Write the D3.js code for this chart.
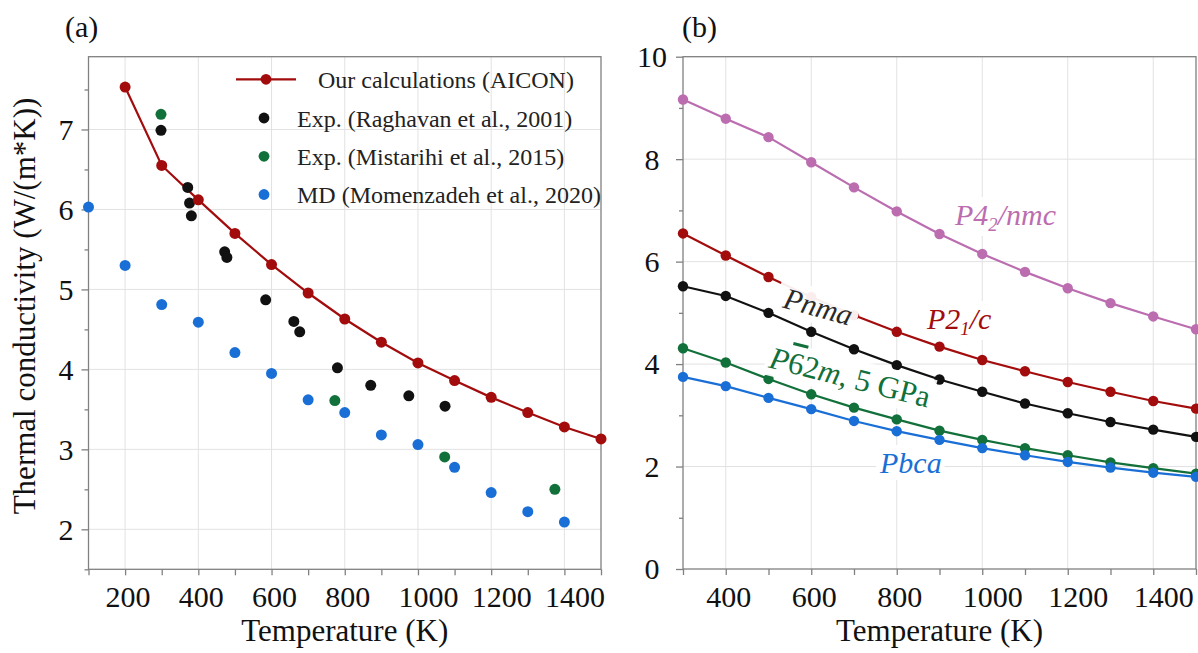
<!DOCTYPE html>
<html>
<head>
<meta charset="utf-8">
<script src="https://cdn.jsdelivr.net/npm/d3@7"></script>
<style>
  html, body { margin: 0; padding: 0; background: #fff; }
  svg, svg text, svg tspan { font-family: "Liberation Serif", "Times New Roman", Times, serif !important; }
</style>
</head>
<body>
<svg id="chart" width="1198" height="653" font-family="Liberation Serif, serif"></svg>
<script>
// ---------- Panel (a): thermal conductivity vs temperature ----------
const tempsA = [200, 300, 400, 500, 600, 700, 800, 900, 1000, 1100, 1200, 1300, 1400, 1500];
const aiconK = [7.53, 6.55, 6.12, 5.70, 5.31, 4.955, 4.63, 4.34, 4.08, 3.86, 3.65, 3.46, 3.28, 3.13];

const raghavanT = [298, 371, 376, 381, 472, 478, 584, 661, 677, 780, 871, 975, 1074];
const raghavanK = [6.99, 6.275, 6.08, 5.92, 5.47, 5.40, 4.87, 4.60, 4.47, 4.02, 3.80, 3.67, 3.54];

const mistarihiT = [298, 773, 1073, 1374];
const mistarihiK = [7.19, 3.61, 2.905, 2.50];

const mdT = [100, 200, 300, 400, 500, 600, 700, 800, 900, 1000, 1100, 1200, 1300, 1400];
const mdK = [6.03, 5.30, 4.81, 4.59, 4.21, 3.95, 3.62, 3.46, 3.18, 3.06, 2.775, 2.46, 2.22, 2.09];

const legendLabels = [
  "Our calculations (AICON)",
  "Exp. (Raghavan et al., 2001)",
  "Exp. (Mistarihi et al., 2015)",
  "MD (Momenzadeh et al., 2020)"
];

const xTicksA = [200, 400, 600, 800, 1000, 1200, 1400];
const xMinorA = [100, 300, 500, 700, 900, 1100, 1300, 1500];
const yTicksA = [2, 3, 4, 5, 6, 7];
const yMinorA = [1.5, 2.5, 3.5, 4.5, 5.5, 6.5, 7.5];

// ---------- Panel (b): polymorphs ----------
const tempsB = [300, 400, 500, 600, 700, 800, 900, 1000, 1100, 1200, 1300, 1400, 1500];
const p42nmcK = [9.165, 8.79, 8.43, 7.94, 7.45, 6.98, 6.54, 6.15, 5.80, 5.48, 5.19, 4.93, 4.68];
const p21cK = aiconK.slice(1);
const pnmaK = [5.52, 5.33, 5.00, 4.63, 4.29, 3.98, 3.70, 3.46, 3.23, 3.04, 2.87, 2.72, 2.58];
const p62mK = [4.31, 4.03, 3.71, 3.41, 3.15, 2.92, 2.70, 2.52, 2.36, 2.22, 2.08, 1.97, 1.86];
const pbcaK = [3.75, 3.57, 3.34, 3.12, 2.89, 2.69, 2.52, 2.36, 2.22, 2.09, 1.98, 1.88, 1.80];

const xTicksB = [400, 600, 800, 1000, 1200, 1400];
const xMinorB = [300, 500, 700, 900, 1100, 1300, 1500];
const yTicksB = [0, 2, 4, 6, 8, 10];
const yMinorB = [1, 3, 5, 7, 9];

const COL = {
  red: "#a20c0c",
  black: "#111111",
  green: "#12703a",
  blue: "#1a6fd6",
  pink: "#bb6db0",
  grid: "#e2e2e2",
  frame: "#808080",
  text: "#111111"
};
const SERIF = '"Liberation Serif", "Times New Roman", Times, serif';

const svg = d3.select("#chart");

const xA = d3.scaleLinear().domain([100, 1500]).range([88.5, 601]);
const yA = d3.scaleLinear().domain([1.5, 7.91]).range([569.3, 56.7]);
const xB = d3.scaleLinear().domain([300, 1500]).range([683, 1196]);
const yB = d3.scaleLinear().domain([0, 10]).range([569, 56.7]);

function drawFrame(g, x, y, xGrid, yGrid, xMaj, xMin, yMaj, yMin, yLabelCenter) {
  const [x0, x1] = x.range();
  const [y0, y1] = y.range();
  // grid
  g.append("g").selectAll("line").data(xGrid).join("line")
    .attr("x1", d => x(d)).attr("x2", d => x(d))
    .attr("y1", y0).attr("y2", y1)
    .attr("stroke", COL.grid).attr("stroke-width", 1);
  g.append("g").selectAll("line").data(yGrid).join("line")
    .attr("x1", x0).attr("x2", x1)
    .attr("y1", d => y(d)).attr("y2", d => y(d))
    .attr("stroke", COL.grid).attr("stroke-width", 1);

  // axes
  const bx = g.append("g").attr("transform", `translate(0,${y0})`)
    .call(d3.axisBottom(x).tickValues(xMaj).tickSize(6).tickPadding(0).tickFormat(d3.format("d")));
  const bxm = g.append("g").attr("transform", `translate(0,${y0})`)
    .call(d3.axisBottom(x).tickValues(xMin).tickSize(6).tickFormat(""));
  const ly = g.append("g").attr("transform", `translate(${x0},0)`)
    .call(d3.axisLeft(y).tickValues(yMaj).tickSize(7).tickFormat(d3.format("d")));
  const lym = g.append("g").attr("transform", `translate(${x0},0)`)
    .call(d3.axisLeft(y).tickValues(yMin).tickSize(4).tickFormat(""));
  [bx, bxm, ly, lym].forEach(a => {
    a.attr("font-family", SERIF);
    a.select(".domain").remove();
    a.selectAll("line").attr("stroke", COL.frame).attr("stroke-width", 1.3);
    a.selectAll("text").attr("font-size", 30).attr("fill", COL.text).attr("font-family", SERIF);
  });
  // temperature labels start a little left of their tick
  bx.selectAll("text").attr("dy", null).attr("y", 37.5)
    .attr("text-anchor", "start").attr("x", -20);
  ly.selectAll("text").attr("dy", "0.33em")
    .attr("text-anchor", "middle").attr("x", -yLabelCenter);

  // frame
  g.append("rect")
    .attr("x", x0).attr("y", y1)
    .attr("width", x1 - x0).attr("height", y0 - y1)
    .attr("fill", "none").attr("stroke", COL.frame).attr("stroke-width", 1.3);
}

function axisTitles(g, x, xTitle, yTitle) {
  const [x0, x1] = x.range();
  g.append("text")
    .attr("x", (x0 + x1) / 2).attr("y", 641)
    .attr("text-anchor", "middle").attr("font-size", 31).attr("fill", COL.text)
    .attr("font-family", SERIF)
    .text(xTitle);
  if (yTitle) {
    g.append("text")
      .attr("transform", `translate(35,306) rotate(-90)`)
      .attr("text-anchor", "middle").attr("font-size", 31).attr("fill", COL.text)
      .attr("font-family", SERIF)
      .text(yTitle);
  }
}

// ---------------- Panel (a) ----------------
const gA = svg.append("g");
drawFrame(gA, xA, yA, xTicksA, yTicksA, xTicksA, xMinorA, yTicksA, yMinorA, 22.5);
axisTitles(gA, xA, "Temperature (K)", "Thermal conductivity (W/(m*K))");
gA.append("text").attr("x", 65).attr("y", 37).attr("font-size", 30).attr("fill", COL.text)
  .attr("font-family", SERIF).text("(a)");

const lineA = d3.line().x(d => xA(d[0])).y(d => yA(d[1]));
const aicon = d3.zip(tempsA, aiconK);
gA.append("path").datum(aicon).attr("d", lineA)
  .attr("fill", "none").attr("stroke", COL.red).attr("stroke-width", 2.2);

function scatter(g, xs, ys, color, r) {
  g.append("g").selectAll("circle").data(d3.zip(xs, ys)).join("circle")
    .attr("cx", d => xA(d[0])).attr("cy", d => yA(d[1]))
    .attr("r", r).attr("fill", color);
}
scatter(gA, mdT, mdK, COL.blue, 5.5);
scatter(gA, raghavanT, raghavanK, COL.black, 5.5);
scatter(gA, mistarihiT, mistarihiK, COL.green, 5.5);
scatter(gA, tempsA, aiconK, COL.red, 5.5);

// legend
const leg = gA.append("g");
const legColors = [COL.red, COL.black, COL.green, COL.blue];
const legY = [79.3, 118, 156.3, 194.5];
leg.append("line").attr("x1", 236).attr("x2", 296).attr("y1", legY[0]).attr("y2", legY[0])
  .attr("stroke", COL.red).attr("stroke-width", 2.2);
legendLabels.forEach((lab, i) => {
  leg.append("circle").attr("cx", i === 0 ? 266 : 264).attr("cy", legY[i]).attr("r", 5.4)
    .attr("fill", legColors[i]);
  leg.append("text").attr("x", i === 0 ? 318 : 297).attr("y", legY[i] + 8.5)
    .attr("font-size", 24).attr("fill", "#222").attr("font-family", SERIF).text(lab);
});

// ---------------- Panel (b) ----------------
const gB = svg.append("g");
drawFrame(gB, xB, yB, xTicksB, [2, 4, 6, 8], xTicksB, xMinorB, yTicksB, yMinorB, 31);
axisTitles(gB, xB, "Temperature (K)", null);
gB.append("text").attr("x", 682).attr("y", 37).attr("font-size", 30).attr("fill", COL.text)
  .attr("font-family", SERIF).text("(b)");

const lineB = d3.line().x(d => xB(d[0])).y(d => yB(d[1]));
const seriesB = [
  { k: p42nmcK, c: COL.pink },
  { k: p21cK, c: COL.red },
  { k: pnmaK, c: COL.black },
  { k: p62mK, c: COL.green },
  { k: pbcaK, c: COL.blue }
];
seriesB.forEach(s => {
  const pts = d3.zip(tempsB, s.k);
  gB.append("path").datum(pts).attr("d", lineB)
    .attr("fill", "none").attr("stroke", s.c).attr("stroke-width", 2.2);
  gB.append("g").selectAll("circle").data(pts).join("circle")
    .attr("cx", d => xB(d[0])).attr("cy", d => yB(d[1]))
    .attr("r", 5.2).attr("fill", s.c);
});

// in-plot labels with white backing boxes
function label(cx, cy, angle, anchor, color, size, parts, pad) {
  const g = gB.append("g").attr("transform", `translate(${cx},${cy}) rotate(${angle})`);
  const bg = g.append("rect").attr("fill", "#fff").attr("opacity", 0.93);
  const t = g.append("text").attr("text-anchor", anchor).attr("font-size", size)
    .attr("fill", color).attr("font-family", SERIF);
  parts.forEach(p => {
    const ts = t.append("tspan").text(p.t);
    if (p.i) ts.attr("font-style", "italic");
    if (p.sub) ts.attr("font-size", size * 0.62).attr("dy", size * 0.2);
    if (p.up) ts.attr("dy", -size * 0.2);
    if (p.bar) ts.style("text-decoration", "overline");
  });
  const bb = t.node().getBBox();
  const px = pad || 3;
  bg.attr("x", bb.x - px).attr("y", bb.y - 1).attr("width", bb.width + 2 * px).attr("height", bb.height + 2);
}

label(955, 225, 0, "start", COL.pink, 30, [
  { t: "P4", i: true }, { t: "2", i: true, sub: true }, { t: "/nmc", i: true, up: true }
]);
label(927, 329, 0, "start", COL.red, 30, [
  { t: "P2", i: true }, { t: "1", i: true, sub: true }, { t: "/c", i: true, up: true }
]);
label(815.5, 316.5, 15.5, "middle", "#2a2a2a", 30, [
  { t: "Pnma", i: true }
], 6);
label(847.5, 387.5, 14.2, "middle", COL.green, 31, [
  { t: "P", i: true }, { t: "6", bar: true }, { t: "2" }, { t: "m", i: true }, { t: ", 5 GPa" }
]);
label(880, 473, 0, "start", COL.blue, 30, [
  { t: "Pbca", i: true }
]);
</script>
</body>
</html>
